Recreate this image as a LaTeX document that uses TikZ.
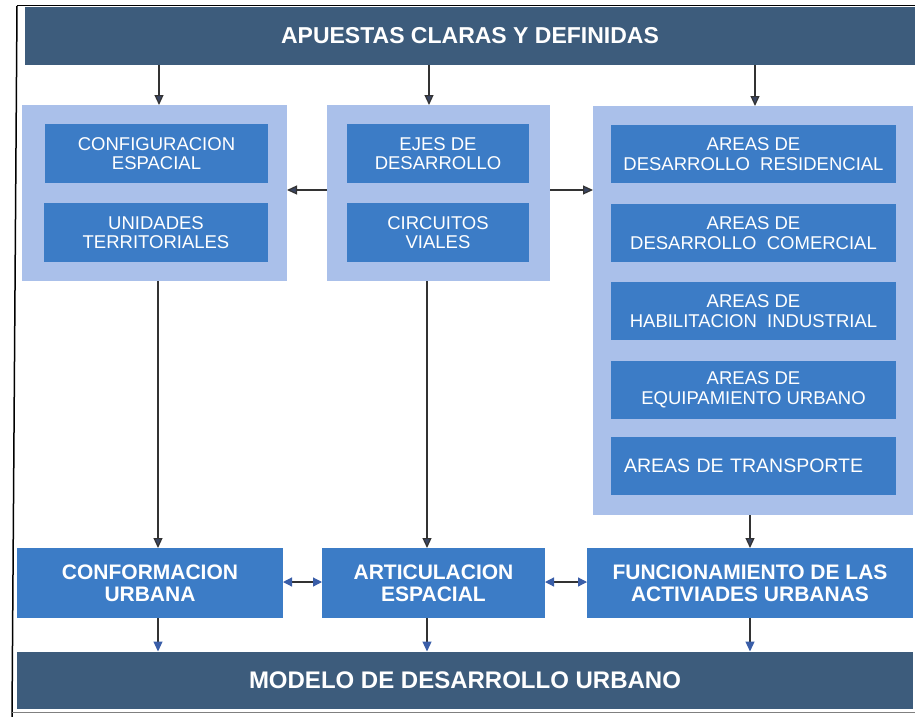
\documentclass[tikz,border=0pt]{standalone}
\usepackage{fontspec}
\setmainfont{Liberation Sans}
\usetikzlibrary{arrows.meta}
\definecolor{bannerc}{HTML}{3D5C7C}
\definecolor{innerc}{HTML}{3C7CC6}
\definecolor{grpc}{HTML}{AAC0EA}
\definecolor{linec}{HTML}{333333}
\definecolor{headc}{HTML}{3A4560}
\definecolor{headb}{HTML}{3A5EA8}
\tikzset{
  bannerbox/.style={fill=bannerc, draw=none, inner sep=0pt, outer sep=0pt, text=white,
    font=\fontsize{23}{25}\selectfont\bfseries},
  grpbox/.style={fill=grpc, draw=none, inner sep=0pt, outer sep=0pt},
  innerbox/.style={fill=innerc, draw=none, inner sep=0pt, outer sep=0pt, text=white,
    align=center, font=\fontsize{18.5}{19.5}\selectfont, minimum height=59pt},
  bottombox/.style={fill=innerc, draw=none, inner sep=0pt, outer sep=0pt, text=white,
    align=center, font=\fontsize{21}{22}\selectfont\bfseries, minimum height=70pt},
  arr/.style={draw=linec, line width=1.2pt, -{Triangle[width=9pt,length=10pt,fill=headc]}},
  arrb/.style={draw=linec, line width=1.2pt, -{Triangle[width=9pt,length=10pt,fill=headb,color=headb]}},
  darr/.style={draw=linec, line width=1.2pt, {Triangle[width=9pt,length=9pt,fill=headb,color=headb]}-{Triangle[width=9pt,length=9pt,fill=headb,color=headb]}},
}
\begin{document}
\begin{tikzpicture}[x=1pt,y=-1pt]
\useasboundingbox (0,0) rectangle (915,717);
% frame
\draw[black, line width=1.5pt] (17,6) -- (12,717);
\draw[black, line width=1pt] (17,6) -- (915,6);
\draw[gray, line width=0.8pt] (12,712) -- (915,712);
% top banner
\node[bannerbox, minimum width=890pt, minimum height=58pt] (top) at (470,36) {APUESTAS CLARAS Y DEFINIDAS};
% groups
\node[grpbox, minimum width=265pt, minimum height=176pt] (gL) at (154.5,193) {};
\node[grpbox, minimum width=223pt, minimum height=176pt] (gM) at (438.5,193) {};
\node[grpbox, minimum width=320pt, minimum height=409pt] (gR) at (753,310.5) {};
% inner boxes
\node[innerbox, minimum width=223pt] (L1) at (156.5,153.5) {CONFIGURACION\\ESPACIAL};
\node[innerbox, minimum width=224pt] (L2) at (156,232.5) {UNIDADES\\TERRITORIALES};
\node[innerbox, minimum width=182pt] (M1) at (438,153.5) {EJES DE\\DESARROLLO};
\node[innerbox, minimum width=182pt] (M2) at (438,232.5) {CIRCUITOS\\VIALES};
\node[innerbox, minimum width=285pt, minimum height=58pt] (R1) at (753.5,154) {AREAS DE\\DESARROLLO\ \ RESIDENCIAL};
\node[innerbox, minimum width=285pt, minimum height=58pt] (R2) at (753.5,233) {AREAS DE\\DESARROLLO\ \ COMERCIAL};
\node[innerbox, minimum width=285pt, minimum height=58pt] (R3) at (753.5,311) {AREAS DE\\HABILITACION\ \ INDUSTRIAL};
\node[innerbox, minimum width=285pt, minimum height=58pt] (R4) at (753.5,390) {AREAS DE\\EQUIPAMIENTO URBANO};
\node[innerbox, minimum width=285pt, minimum height=58pt, align=left, text width=259pt, font=\fontsize{19.5}{20}\selectfont] (R5) at (753.5,466) {AREAS DE TRANSPORTE\\[4pt]};
% bottom boxes
\node[bottombox, minimum width=266pt] (B1) at (150,583) {CONFORMACION\\URBANA};
\node[bottombox, minimum width=223pt] (B2) at (433.5,583) {ARTICULACION\\ESPACIAL};
\node[bottombox, minimum width=326pt] (B3) at (750,583) {FUNCIONAMIENTO DE LAS\\ACTIVIADES URBANAS};
% bottom banner
\node[bannerbox, minimum width=896pt, minimum height=57pt, font=\fontsize{24}{26}\selectfont\bfseries] (bot) at (465,680) {MODELO DE DESARROLLO URBANO};
% arrows from top banner
\draw[arr] (top.south -| 159,0) -- (gL.north -| 159,0);
\draw[arr] (top.south -| 429,0) -- (gM.north -| 429,0);
\draw[arr] (top.south -| 755,0) -- (gR.north -| 755,0);
% horizontal arrows
\draw[arr] (gM.west |- 0,190) -- (gL.east |- 0,190);
\draw[arr] (gM.east |- 0,190) -- (gR.west |- 0,190);
% down arrows
\draw[arr] (gL.south -| 158,0) -- (B1.north -| 158,0);
\draw[arr] (gM.south -| 427,0) -- (B2.north -| 427,0);
\draw[arr] (gR.south -| 750,0) -- (B3.north -| 750,0);
% double arrows
\draw[darr] (B1.east |- 0,582) -- (B2.west |- 0,582);
\draw[darr] (B2.east |- 0,582) -- (B3.west |- 0,582);
% to bottom banner
\draw[arrb] (B1.south -| 158,0) -- (bot.north -| 158,0);
\draw[arrb] (B2.south -| 427,0) -- (bot.north -| 427,0);
\draw[arrb] (B3.south -| 750,0) -- (bot.north -| 750,0);
\end{tikzpicture}
\end{document}
